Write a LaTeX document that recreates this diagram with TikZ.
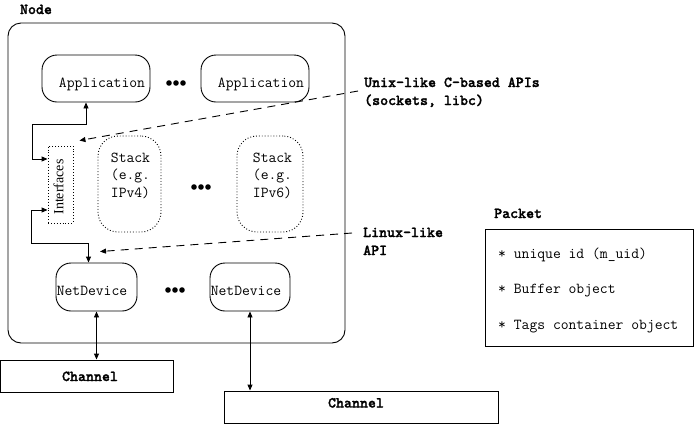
\documentclass[tikz,border=0pt]{standalone}
\usepackage{fontspec}
\newfontfamily\ifcfont{Liberation Serif}
\newfontfamily\boldmono{lmmonolt10-bold.otf}[FakeBold=1.5]
\usetikzlibrary{arrows.meta}

\tikzset{
  frame/.style={draw, line width=0.9pt, inner sep=0, rounded corners=13pt},
  appbox/.style={draw, line width=0.9pt, inner sep=0, rounded corners=15pt},
  stackbox/.style={draw, dotted, line width=0.9pt, inner sep=0, rounded corners=20pt},
  ifcbox/.style={draw, dotted, line width=0.9pt, inner sep=0},
  plainbox/.style={draw, line width=0.9pt, inner sep=0},
  txt/.style={inner sep=0, font=\ttfamily\fontsize{15.2}{17.5}\selectfont},
  boldtxt/.style={inner sep=0, font=\boldmono\fontsize{15.2}{18}\selectfont},
  link/.style={line width=0.9pt, >={Triangle[length=6pt,width=5pt]}, <->},
  apilink/.style={line width=0.9pt, dash pattern=on 8pt off 6pt, -{Triangle[length=6pt,width=5pt]}}
}

\newcommand{\threedots}[2]{\foreach \k in {-1,0,1} {\fill ({#1+7*\k},#2) circle (2.8pt);}}

\begin{document}
\begin{tikzpicture}[x=1pt, y=-1pt]
    \useasboundingbox (0,0) rectangle (694,424);

    % The node and its name
    \node[frame, minimum width=337pt, minimum height=320pt] (host) at (176.5,183) {};
    \node[boldtxt, anchor=base] (hostname) at (36,14) {Node};

    % Applications
    \node[appbox, minimum width=108pt, minimum height=47pt] (app1) at (96,78.5) {};
    \node[txt, anchor=base] (app1txt) at (102,87) {Application};
    \node[appbox, minimum width=108pt, minimum height=47pt] (app2) at (255,78.5) {};
    \node[txt, anchor=base] (app2txt) at (261,87) {Application};
    \threedots{176}{83}

    % Interfaces and stacks
    \node[ifcbox, minimum width=25pt, minimum height=77pt] (ifc) at (60.5,184.5) {};
    \node[inner sep=0, font=\ifcfont\fontsize{14}{16}\selectfont, rotate=90] (ifctxt) at (58.5,187) {Interfaces};

    \node[stackbox, minimum width=63pt, minimum height=96pt] (stk1) at (129.5,184) {};
    \node[txt, align=left, anchor=base] (stk1txt) at (130.5,197) {Stack\\(e.g.\\IPv4)};
    \threedots{201}{187}
    \node[stackbox, minimum width=66pt, minimum height=96pt] (stk2) at (270,184) {};
    \node[txt, align=left, anchor=base] (stk2txt) at (272.5,197) {Stack\\(e.g.\\IPv6)};

    % Net devices
    \node[appbox, minimum width=81pt, minimum height=48pt] (nd1) at (96.5,287) {};
    \node[txt, anchor=base] (nd1txt) at (92,295) {NetDevice};
    \threedots{175}{290}
    \node[appbox, minimum width=80pt, minimum height=48pt] (nd2) at (250,287) {};
    \node[txt, anchor=base] (nd2txt) at (246,295) {NetDevice};

    % Channels
    \node[plainbox, minimum width=173pt, minimum height=32pt] (ch1) at (86.5,376) {};
    \node[boldtxt, anchor=base] (ch1txt) at (90,381) {Channel};
    \node[plainbox, minimum width=274pt, minimum height=32pt] (ch2) at (361,407) {};
    \node[boldtxt, anchor=base] (ch2txt) at (356,407.5) {Channel};

    % API labels
    \node[boldtxt, align=left, anchor=base west] (unix) at (364,105) {Unix-like C-based APIs\\(sockets, libc)};
    \node[boldtxt, align=left, anchor=base west] (linux) at (363,255) {Linux-like\\API};

    % Packet
    \node[boldtxt, anchor=base west] (pktname) at (494,218) {Packet};
    \node[plainbox, minimum width=208pt, minimum height=117pt] (pkt) at (589,287.5) {};
    \node[txt, align=left, anchor=base west, font=\ttfamily\fontsize{15.2}{35.5}\selectfont] (pkttxt) at (498,329) {* unique id (m\_uid)\\* Buffer object\\* Tags container object};

    % Arrows between the boxes
    \draw[link] ([xshift=-10pt]app1.south) -- ++(0,22) -| (32,159) -- (ifc.west |- 0,159);
    \draw[link] (ifc.west |- 0,210) -| (31,243) -| ([xshift=-8pt]nd1.north);
    \draw[link] (nd1.south) -- (nd1.south |- ch1.north);
    \draw[link] (nd2.south) -- (nd2.south |- ch2.north);

    % Dashed arrows from the API labels
    \draw[apilink] ([shift={(-6pt,14pt)}]unix.base west) -- ([shift={(6pt,5pt)}]ifc.north east);
    \draw[apilink] ([shift={(-11pt,22pt)}]linux.base west) -- ([shift={(3.5pt,11pt)}]nd1.north);
\end{tikzpicture}
\end{document}
